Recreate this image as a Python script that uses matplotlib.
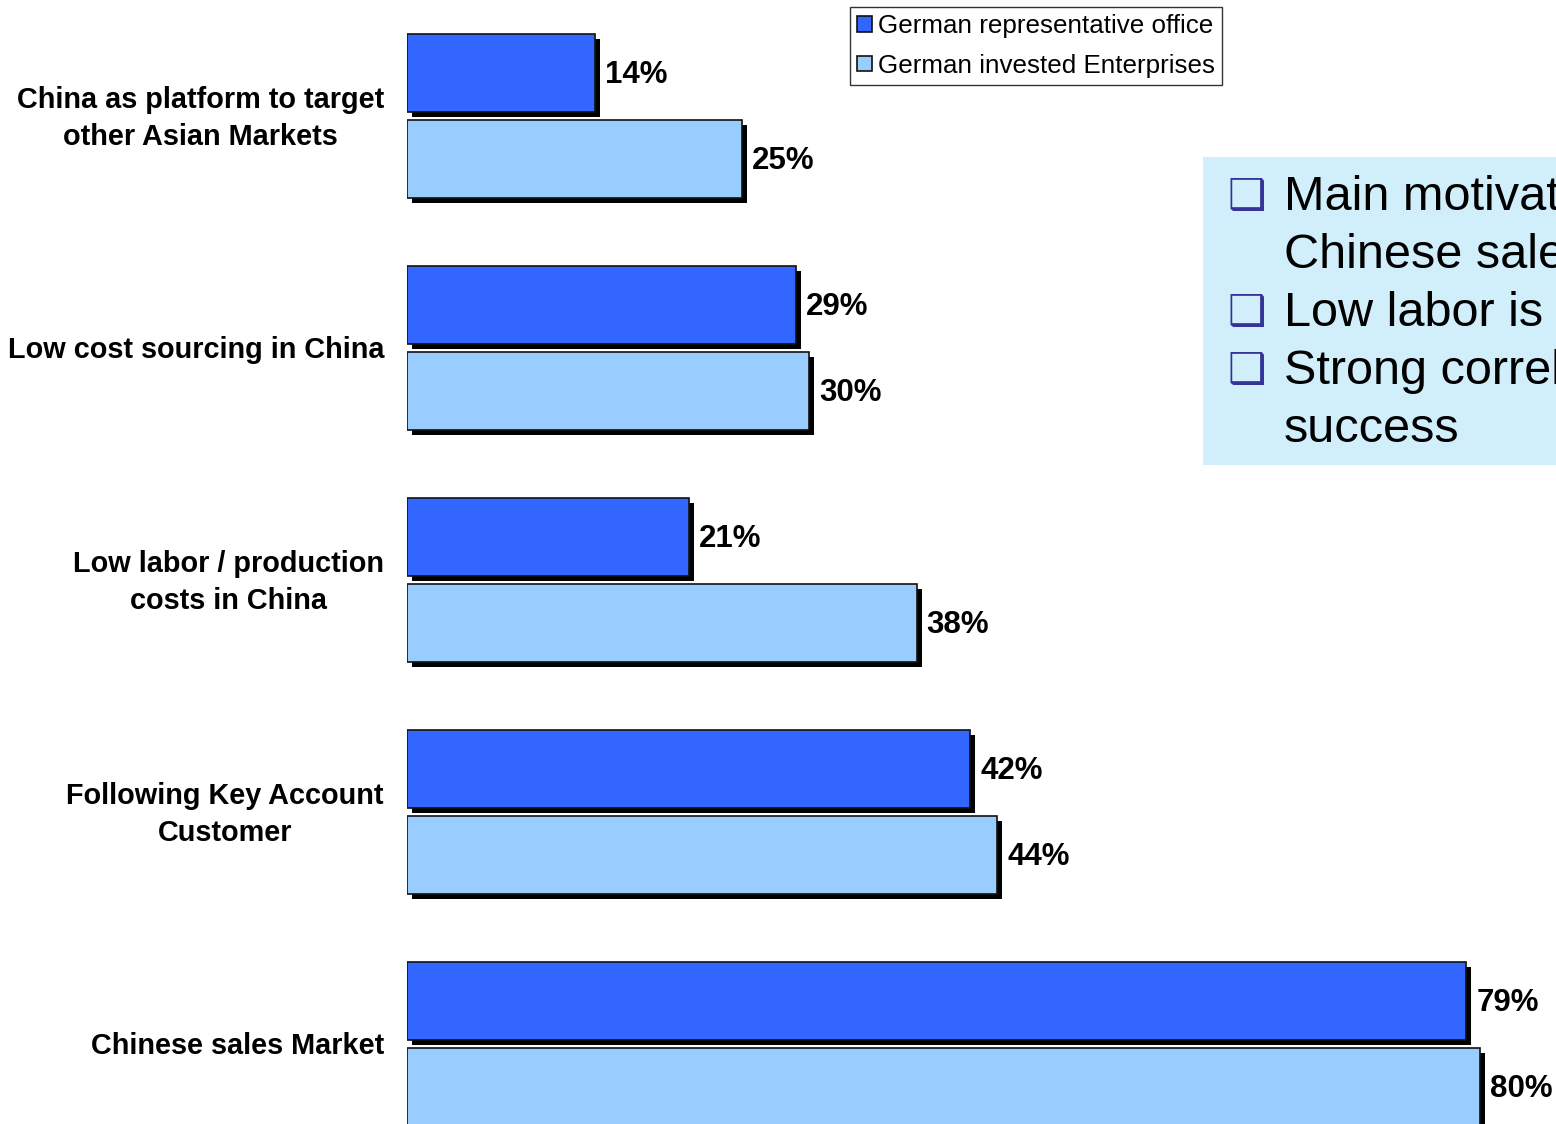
import matplotlib
matplotlib.use("Agg")
import matplotlib.pyplot as plt
import matplotlib.patheffects as pe
from matplotlib.patches import Rectangle
import numpy as np

plt.rcParams['font.family'] = ['Liberation Sans', 'DejaVu Sans']

# Data
categories = ["China as platform to target\nother Asian Markets",
              "Low cost sourcing in China",
              "Low labor / production\ncosts in China",
              "Following Key Account\nCustomer",
              "Chinese sales Market"]
rep_office = [14, 29, 21, 42, 79]
invested = [25, 30, 38, 44, 80]
series_names = ["German representative office", "German invested Enterprises"]
bullets = ["Main motivation is the\nChinese sales market",
           "Low labor is not the key",
           "Strong correlation with\nsuccess"]

W, H = 1556, 1124
fig = plt.figure(figsize=(W / 100, H / 100), dpi=100)

# axes: 0% at x=407px, 13.41 px per percent; group pitch 232 px
x0 = 407
px_per_pct = 13.41
ax = fig.add_axes([x0 / W, 0, 1 - x0 / W, 1])
ax.set_xlim(0, (W - x0) / px_per_pct)
ax.set_ylim((H - 115.5) / 232, -115.5 / 232)
ax.axis('off')

y = np.arange(len(categories))
bh = 78 / 232
off = 43 / 232
shadow = [pe.SimplePatchShadow(offset=(3.6, -3.6), shadow_rgbFace='black', alpha=1), pe.Normal()]

b1 = ax.barh(y - off, rep_office, height=bh, color='#3366FF', edgecolor='#111111',
             linewidth=1.2, label=series_names[0])
b2 = ax.barh(y + off, invested, height=bh, color='#99CCFF', edgecolor='#111111',
             linewidth=1.2, label=series_names[1])
for b in list(b1) + list(b2):
    b.set_path_effects(shadow)

dy = 2.5 / 232
for yy, v in zip(y - off, rep_office):
    ax.text(v + 10 / px_per_pct, yy + dy, f"{v}%", ha='left', va='center',
            fontsize=22.5, fontweight='bold')
for yy, v in zip(y + off, invested):
    ax.text(v + 10 / px_per_pct, yy + dy, f"{v}%", ha='left', va='center',
            fontsize=22.5, fontweight='bold')

for yy, lab in zip(y, categories):
    ax.text(-23 / px_per_pct, yy + 3 / 232, lab, ha='right', va='center',
            multialignment='center', fontsize=20.8, fontweight='bold', linespacing=1.45)

# legend
leg = fig.legend(handles=[b1, b2], labels=series_names, loc='upper left',
                 bbox_to_anchor=(850 / W, 1 - 7 / H), fontsize=18.7,
                 handlelength=0.55, handleheight=0.55, handletextpad=0.25,
                 borderpad=0.28, labelspacing=0.6, borderaxespad=0,
                 frameon=True, fancybox=False, edgecolor='black')
leg.get_frame().set_linewidth(1.0)
for h in leg.legend_handles:
    h.set_path_effects([])

# text box on the right
fig.patches.append(Rectangle((1203 / W, 1 - 465 / H), (W - 1203) / W, 308 / H,
                             transform=fig.transFigure, facecolor='#D0EFFA',
                             edgecolor='none', zorder=0))
line_h = 58
ty = 197
for txt in bullets:
    fig.text(1227 / W, 1 - ty / H, "\u2751", ha='left', va='center', fontsize=31,
             color='#333399', family=['DejaVu Sans'])
    for ln in txt.split("\n"):
        fig.text(1284 / W, 1 - ty / H, ln, ha='left', va='center', fontsize=35)
        ty += line_h

fig.savefig("out.png", dpi=100)
